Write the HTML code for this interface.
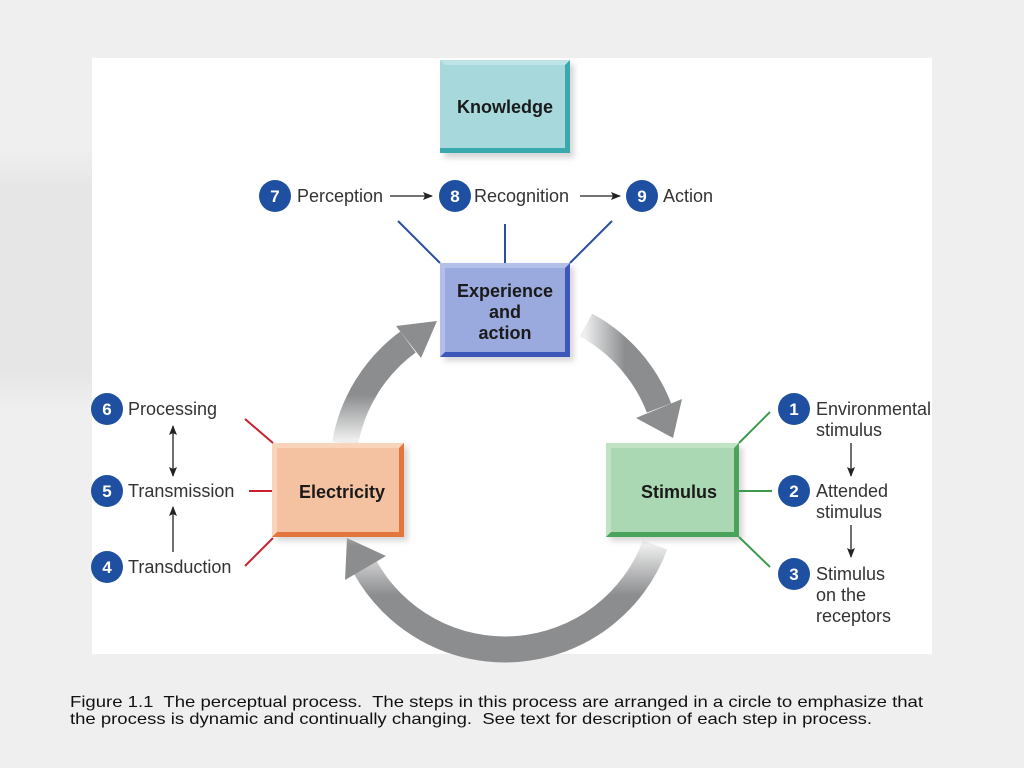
<!DOCTYPE html>
<html><head><meta charset="utf-8"><style>
html,body{margin:0;padding:0;width:1024px;height:768px;overflow:hidden;background:#efefef}
svg{display:block}
text{font-family:"Liberation Sans",Arial,sans-serif;white-space:pre}
</style></head><body>
<svg width="1024" height="768" viewBox="0 0 1024 768" xmlns="http://www.w3.org/2000/svg" xml:space="preserve">
<defs>
<linearGradient id="band" x1="0" y1="0" x2="0" y2="1">
<stop offset="0" stop-color="#efefef"/><stop offset="0.15" stop-color="#e6e6e6"/><stop offset="0.85" stop-color="#e6e6e6"/><stop offset="1" stop-color="#efefef"/>
</linearGradient>
<linearGradient id="g1" gradientUnits="userSpaceOnUse" x1="0" y1="440" x2="0" y2="395"><stop offset="0" stop-color="#eeeeee"/><stop offset="1" stop-color="#8b8d8f"/></linearGradient>
<linearGradient id="g2" gradientUnits="userSpaceOnUse" x1="585" y1="0" x2="625" y2="0"><stop offset="0" stop-color="#eeeeee"/><stop offset="1" stop-color="#8b8d8f"/></linearGradient>
<linearGradient id="g3" gradientUnits="userSpaceOnUse" x1="0" y1="545" x2="0" y2="595"><stop offset="0" stop-color="#eeeeee"/><stop offset="1" stop-color="#8b8d8f"/></linearGradient>
<filter id="sh" x="-20%" y="-20%" width="150%" height="150%"><feGaussianBlur stdDeviation="3"/></filter>
<marker id="ah" markerWidth="10" markerHeight="8" refX="9" refY="4" orient="auto" markerUnits="userSpaceOnUse"><path d="M0,0 L10,4 L0,8 L2,4 Z" fill="#222"/></marker>
</defs>
<rect width="1024" height="768" fill="#efefef"/>
<rect x="0" y="150" width="92" height="260" fill="url(#band)"/>
<rect x="92" y="58" width="840" height="596" fill="#ffffff"/>

<!-- arcs -->
<path d="M345,444 A160,160 0 0 1 408,342" fill="none" stroke="url(#g1)" stroke-width="26"/>
<polygon points="396,326 437,321 421,358" fill="#8b8d8f"/>
<path d="M586,325 A160,160 0 0 1 659,408" fill="none" stroke="url(#g2)" stroke-width="26"/>
<polygon points="682,399 673,438 636,418" fill="#8b8d8f"/>
<path d="M655,545 A160,160 0 0 1 365,567" fill="none" stroke="url(#g3)" stroke-width="26"/>
<polygon points="386,556 347,538 345,580" fill="#8b8d8f"/>

<!-- boxes -->
<g>
<rect x="444" y="64" width="130" height="94" fill="#bbb" filter="url(#sh)" opacity="0.6"/>
<rect x="440" y="60" width="130" height="93" fill="#3aa9ad"/>
<rect x="440" y="60" width="125" height="88" fill="#a6d8dc"/>
<polygon points="440,60 570,60 565,65 445,65" fill="#bde4e7"/>
<text x="505" y="113" text-anchor="middle" font-size="18" font-weight="bold" fill="#1a1a1a">Knowledge</text>
</g>
<g>
<rect x="444" y="267" width="130" height="94" fill="#bbb" filter="url(#sh)" opacity="0.6"/>
<rect x="440" y="263" width="130" height="94" fill="#3d58b8"/>
<rect x="440" y="263" width="125" height="89" fill="#9baade"/>
<polygon points="440,263 570,263 565,268 445,268 445,352 440,357" fill="#b3bfe8"/>
<text x="505" y="297" text-anchor="middle" font-size="18" font-weight="bold" fill="#1a1a1a">Experience</text>
<text x="505" y="318" text-anchor="middle" font-size="18" font-weight="bold" fill="#1a1a1a">and</text>
<text x="505" y="339" text-anchor="middle" font-size="18" font-weight="bold" fill="#1a1a1a">action</text>
</g>
<g>
<rect x="276" y="447" width="132" height="94" fill="#bbb" filter="url(#sh)" opacity="0.6"/>
<rect x="272" y="443" width="132" height="94" fill="#e2763c"/>
<rect x="272" y="443" width="127" height="89" fill="#f5c2a1"/>
<polygon points="272,443 404,443 399,448 277,448 277,532 272,537" fill="#f9d3ba"/>
<text x="342" y="498" text-anchor="middle" font-size="18" font-weight="bold" fill="#1a1a1a">Electricity</text>
</g>
<g>
<rect x="610" y="447" width="133" height="94" fill="#bbb" filter="url(#sh)" opacity="0.6"/>
<rect x="606" y="443" width="133" height="94" fill="#4aa35a"/>
<rect x="606" y="443" width="128" height="89" fill="#aad8b3"/>
<polygon points="606,443 739,443 734,448 611,448 611,532 606,537" fill="#c0e3c6"/>
<text x="679" y="498" text-anchor="middle" font-size="18" font-weight="bold" fill="#1a1a1a">Stimulus</text>
</g>

<!-- connector lines -->
<g stroke="#2a4fa0" stroke-width="2">
<line x1="398" y1="221" x2="440" y2="263"/><line x1="505" y1="224" x2="505" y2="263"/><line x1="612" y1="221" x2="570" y2="263"/>
</g>
<g stroke="#c8202f" stroke-width="2">
<line x1="245" y1="419" x2="273" y2="443"/><line x1="249" y1="491" x2="272" y2="491"/><line x1="245" y1="566" x2="273" y2="538"/>
</g>
<g stroke="#3f9a50" stroke-width="2">
<line x1="739" y1="443" x2="770" y2="412"/><line x1="739" y1="491" x2="772" y2="491"/><line x1="739" y1="537" x2="770" y2="567"/>
</g>

<!-- step labels -->
<g font-size="18" fill="#333">
<g fill="#1f4fa0"><circle cx="275" cy="196" r="16"/><circle cx="455" cy="196" r="16"/><circle cx="642" cy="196" r="16"/>
<circle cx="107" cy="409" r="16"/><circle cx="107" cy="491" r="16"/><circle cx="107" cy="567" r="16"/>
<circle cx="794" cy="409" r="16"/><circle cx="794" cy="491" r="16"/><circle cx="794" cy="574" r="16"/></g>
<g fill="#fff" font-weight="bold" font-size="17" text-anchor="middle">
<text x="275" y="202">7</text><text x="455" y="202">8</text><text x="642" y="202">9</text>
<text x="107" y="415">6</text><text x="107" y="497">5</text><text x="107" y="573">4</text>
<text x="794" y="415">1</text><text x="794" y="497">2</text><text x="794" y="580">3</text>
</g>
<text x="297" y="202">Perception</text>
<text x="474" y="202">Recognition</text>
<text x="663" y="202">Action</text>
<text x="128" y="415">Processing</text>
<text x="128" y="497">Transmission</text>
<text x="128" y="573">Transduction</text>
<text x="816" y="415">Environmental</text><text x="816" y="436">stimulus</text>
<text x="816" y="497">Attended</text><text x="816" y="518">stimulus</text>
<text x="816" y="580">Stimulus</text><text x="816" y="601">on the</text><text x="816" y="622">receptors</text>
</g>
<g stroke="#222" stroke-width="1.3" fill="none">
<line x1="390" y1="196" x2="432" y2="196" marker-end="url(#ah)"/>
<line x1="580" y1="196" x2="620" y2="196" marker-end="url(#ah)"/>
<line x1="173" y1="450" x2="173" y2="426" marker-end="url(#ah)"/>
<line x1="173" y1="450" x2="173" y2="476" marker-end="url(#ah)"/>
<line x1="173" y1="552" x2="173" y2="507" marker-end="url(#ah)"/>
<line x1="851" y1="443" x2="851" y2="476" marker-end="url(#ah)"/>
<line x1="851" y1="525" x2="851" y2="557" marker-end="url(#ah)"/>
</g>

<text x="70" y="707" font-size="16" fill="#111" textLength="853" lengthAdjust="spacingAndGlyphs">Figure 1.1  The perceptual process.  The steps in this process are arranged in a circle to emphasize that</text>
<text x="70" y="724" font-size="16" fill="#111" textLength="802" lengthAdjust="spacingAndGlyphs">the process is dynamic and continually changing.  See text for description of each step in process.</text>
</svg>
</body></html>
